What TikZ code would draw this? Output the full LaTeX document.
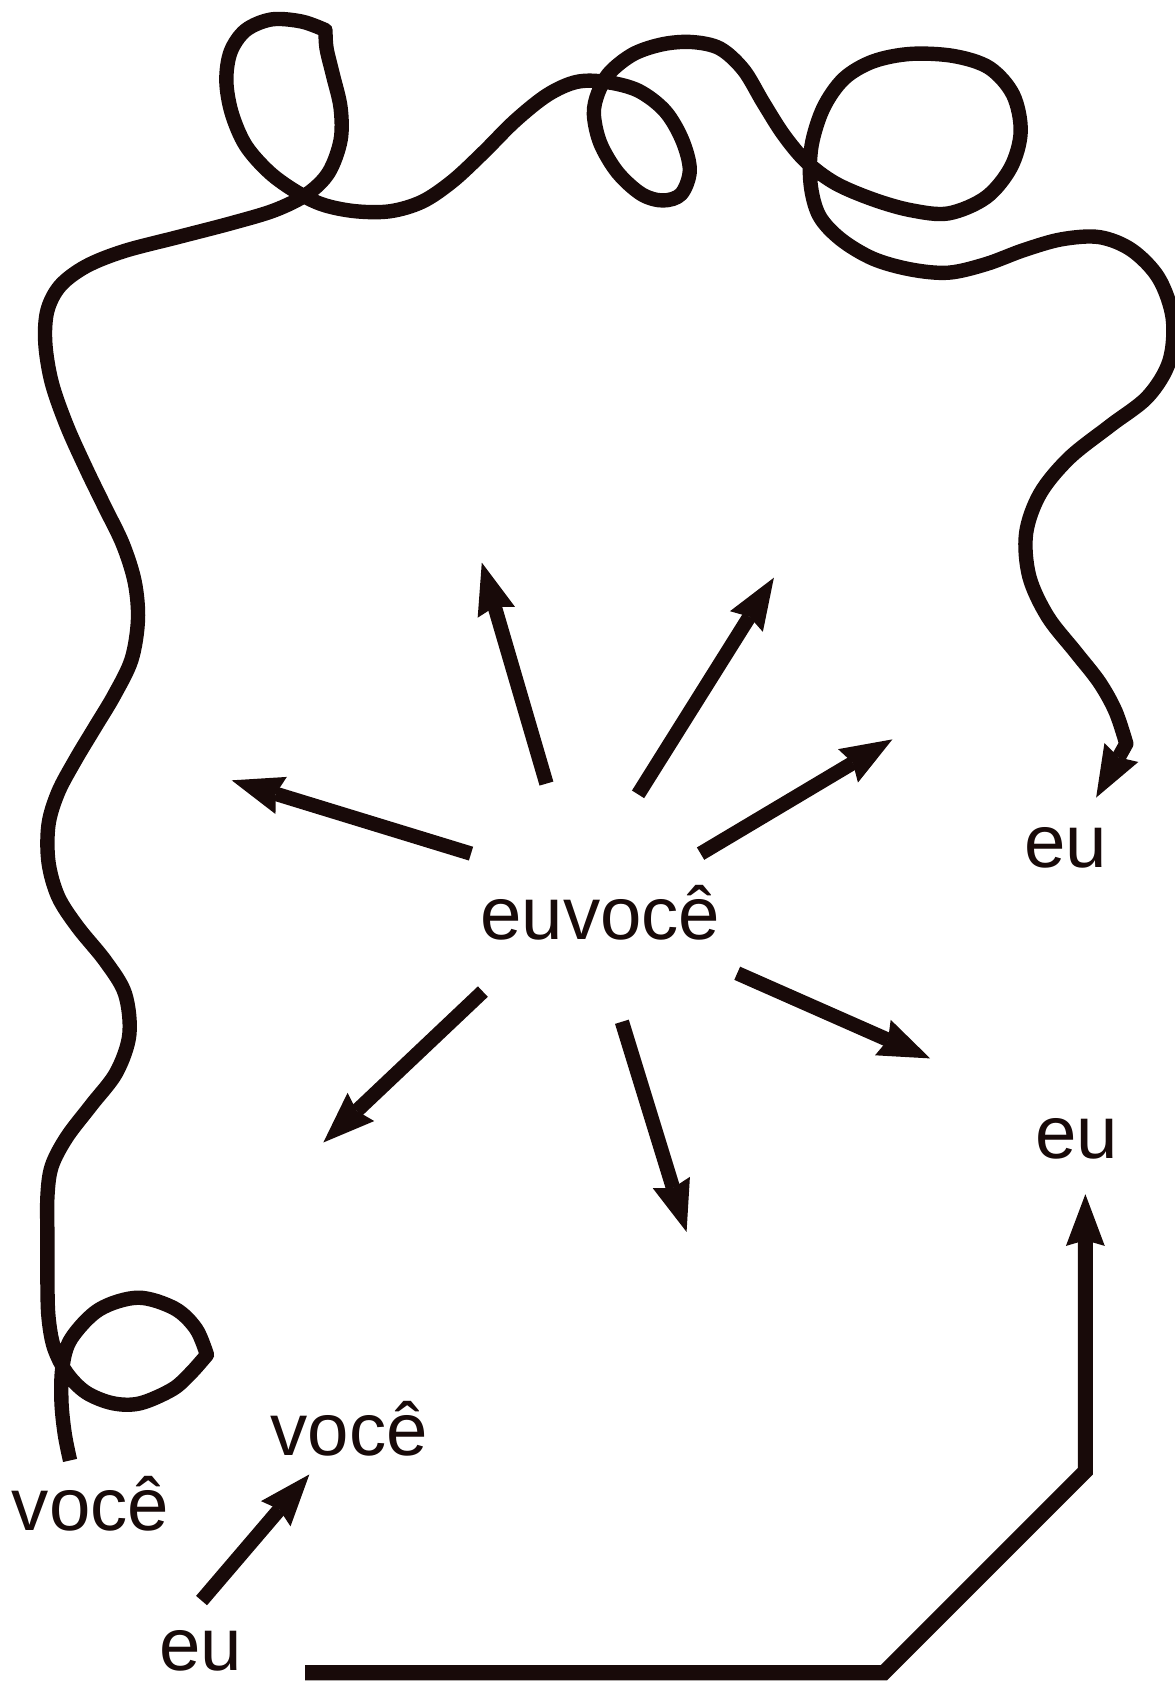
\documentclass[tikz,border=0pt]{standalone}
\usepackage{fontspec}
\setmainfont{Liberation Sans}
\usetikzlibrary{arrows.meta}
\definecolor{ink}{RGB}{24,10,9}
\begin{document}
\begin{tikzpicture}[x=0.02cm,y=-0.02cm,
  lbl/.style={text=ink, inner sep=0pt, anchor=base, font=\fontsize{39.3}{47}\selectfont},
  tip/.style={-{Stealth[length=27.3pt,width=20.5pt,inset=3pt,line width=0pt]}},
  ray/.style={draw=ink, line width=7.6pt, tip},
  cord/.style={draw=ink, line width=7.6pt, line cap=butt, line join=round},
  track/.style={draw=ink, line width=8pt, line join=miter, tip},
]
\useasboundingbox (0,0) rectangle (1090,1568);

% labels
\node[lbl] (mid)    at (557,872)  {euvocê};
\node[lbl] (euA)    at (989,805)  {eu};
\node[lbl] (euB)    at (999,1075) {eu};
\node[lbl] (vcA)    at (324,1350) {você};
\node[lbl] (vcB)    at (84,1420)  {você};
\node[lbl] (euC)    at (186,1550) {eu};

% rays leaving the centre word
\foreach \n/\sx/\sy/\tx/\ty in {
  1/507/727/447/522, 2/592/737/718/536, 3/650/792/828/686,
  4/437/792/215/724, 5/448/920/300/1060, 6/577/948/637/1143,
  7/684/903/863/982}{
  \coordinate (s\n) at (\sx,\sy);
  \coordinate (t\n) at (\tx,\ty);
  \draw[ray] (s\n) -- (t\n);
}

% small arrow from the lower eu to você
\coordinate (a0) at (187,1485);
\coordinate (a1) at (287,1368);
\draw[ray] (a0) -- (a1);

% angular track from the lower eu up to the right-hand eu
\coordinate (b0) at (283,1552);
\coordinate (b1) at (820,1552);
\coordinate (b2) at (1007,1365);
\coordinate (b3) at (1007,1108);
\draw[track] (b0) -- (b1) -- (b2) -- (b3);

% long looping thread from você to the upper eu
\coordinate (c0) at (1045,690);
\coordinate (c1) at (1017,740);
\draw[cord, tip]
  plot[smooth, tension=0.55] coordinates {
    (65,1355) (60,1330) (57,1300) (58,1268) (66,1242) (92,1215) (128,1204)
    (162,1214) (182,1233) (192,1257)}
  -- plot[smooth, tension=0.55] coordinates {
    (192,1257) (177,1274) (160,1289) (130,1302) (105,1302) (80,1292) (62,1274)
    (50,1250) (45,1222) (44,1190) (44,1150) (44,1110) (48,1082) (62,1055)
    (85,1025) (108,995) (120,960) (116,922) (98,892) (72,860) (54,832)
    (45,800) (45,765) (54,735) (70,705) (88,675) (106,645) (122,612)
    (128,575) (125,540) (114,505) (97,470) (80,435) (62,395) (48,355)
    (42,318) (44,288) (56,265) (80,247) (115,233) (165,220) (215,207)
    (255,195) (285,180) (305,160) (316,130) (316,100) (309,70) (303,45)
    (302,28)}
  -- plot[smooth, tension=0.55] coordinates {
    (302,28) (280,20) (252,18) (228,28) (214,48) (210,75) (215,105)
    (228,135) (250,160) (275,178) (300,190) (330,196) (362,196) (392,187)
    (420,168) (448,142) (478,112) (508,88) (535,76) (562,76) (592,84)
    (617,103) (633,130) (640,158) (632,180) (615,186) (595,180) (573,160)
    (557,133) (551,106) (555,86) (566,67) (588,50) (615,41) (642,39)
    (668,45) (690,65) (708,95) (727,125) (748,150) (775,170) (810,185)
    (845,195) (880,198) (915,183) (938,155) (947,122) (940,88) (918,63)
    (885,52) (845,50) (810,57) (783,73) (764,100) (753,135) (752,170)
    (760,200) (780,222) (810,240) (845,250) (880,253) (915,245) (950,232)
    (985,222) (1020,220) (1050,232) (1075,258) (1088,295) (1085,335)
    (1065,368) (1030,395) (992,425) (965,458) (952,495) (955,535)
    (972,572) (998,605) (1020,633) (1035,660) (1045,690)}
  -- (c1);
\end{tikzpicture}
\end{document}
